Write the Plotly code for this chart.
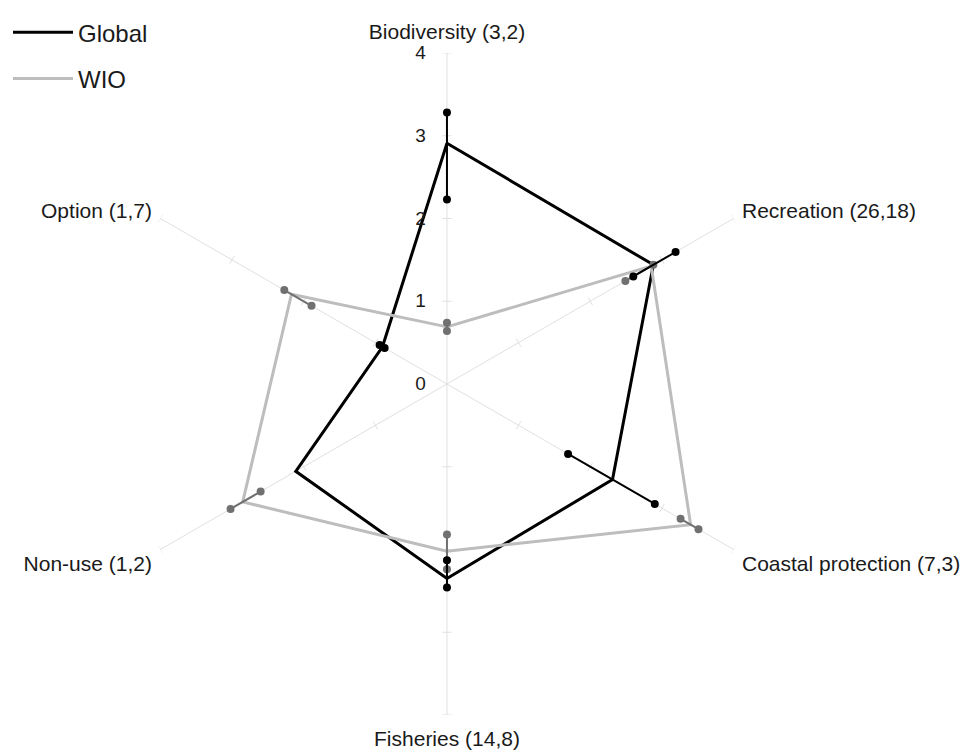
import math

import plotly.graph_objects as go

# categories (clockwise from top) and their angular positions
categories = [
    "Biodiversity (3,2)",
    "Recreation (26,18)",
    "Coastal protection (7,3)",
    "Fisheries (14,8)",
    "Non-use (1,2)",
    "Option (1,7)",
]
angles = [0, 60, 120, 180, 240, 300]

# mean values and error ranges
global_vals = [2.91, 2.88, 2.31, 2.35, 2.11, 0.90]
global_lo = [2.23, 2.60, 1.69, 2.13, 2.11, 0.87]
global_hi = [3.28, 3.19, 2.90, 2.46, 2.11, 0.94]

wio_vals = [0.69, 2.85, 3.40, 2.02, 2.85, 2.17]
wio_lo = [0.64, 2.49, 3.26, 1.82, 2.60, 1.89]
wio_hi = [0.74, 2.88, 3.51, 2.24, 3.02, 2.27]

radial_ticks = [0, 1, 2, 3, 4]

FONT = "Liberation Sans, Arial, sans-serif"


def closed(seq):
    return list(seq) + [seq[0]]


def err_segments(lo, hi):
    r, t = [], []
    for a, l, h in zip(angles, lo, hi):
        if h - l < 1e-6:
            continue
        r += [l, h, None]
        t += [a, a, None]
    return r, t


def spoke_ticks(half=0.055):
    # small cross marks on every spoke at each integer
    r, t = [], []
    for a in angles:
        for k in radial_ticks[1:]:
            off = math.degrees(math.atan(half / k))
            rr = math.hypot(k, half)
            r += [rr, rr, None]
            t += [a - off, a + off, None]
    return r, t


fig = go.Figure()

tr, tt = spoke_ticks()
fig.add_trace(
    go.Scatterpolar(
        r=tr, theta=tt, mode="lines",
        line=dict(color="#e0e0e0", width=1),
        hoverinfo="skip", showlegend=False,
    )
)

fig.add_trace(
    go.Scatterpolar(
        r=closed(global_vals), theta=closed(angles), mode="lines",
        name="Global", legendgroup="g",
        line=dict(color="black", width=3),
    )
)
fig.add_trace(
    go.Scatterpolar(
        r=closed(wio_vals), theta=closed(angles), mode="lines",
        name="WIO", legendgroup="w",
        line=dict(color="#bdbdbd", width=3),
    )
)

er, et = err_segments(wio_lo, wio_hi)
fig.add_trace(
    go.Scatterpolar(
        r=er, theta=et, mode="lines+markers",
        line=dict(color="#707070", width=2),
        marker=dict(color="#707070", size=8),
        showlegend=False, hoverinfo="skip",
    )
)
er, et = err_segments(global_lo, global_hi)
fig.add_trace(
    go.Scatterpolar(
        r=er, theta=et, mode="lines+markers",
        line=dict(color="black", width=2),
        marker=dict(color="black", size=8),
        showlegend=False, hoverinfo="skip",
    )
)

fig.update_layout(
    width=977,
    height=755,
    margin=dict(l=0, r=0, t=0, b=0),
    paper_bgcolor="white",
    font=dict(family=FONT, size=21, color="#1a1a1a"),
    polar=dict(
        domain=dict(x=[0.1105, 0.7881], y=[0.0636, 0.9404]),
        bgcolor="white",
        angularaxis=dict(
            direction="clockwise",
            rotation=90,
            tickmode="array",
            tickvals=angles,
            ticktext=categories,
            showline=False,
            gridcolor="#e0e0e0",
            gridwidth=1,
            ticks="outside",
            ticklen=5,
            tickcolor="rgba(0,0,0,0)",
            tickfont=dict(size=21, color="#1a1a1a"),
        ),
        radialaxis=dict(
            range=[0, 4],
            tickmode="array",
            tickvals=radial_ticks,
            showgrid=False,
            showline=False,
            ticks="outside",
            ticklen=14,
            tickcolor="rgba(0,0,0,0)",
            angle=90,
            tickangle=90,
            side="counterclockwise",
            tickfont=dict(size=19, color="#1a1a1a"),
        ),
    ),
    legend=dict(
        x=0, y=0.997, xanchor="left", yanchor="top",
        font=dict(size=24, color="#1a1a1a"),
        tracegroupgap=12,
        itemwidth=60,
        bgcolor="rgba(0,0,0,0)",
    ),
)

fig.write_html("out.html")
